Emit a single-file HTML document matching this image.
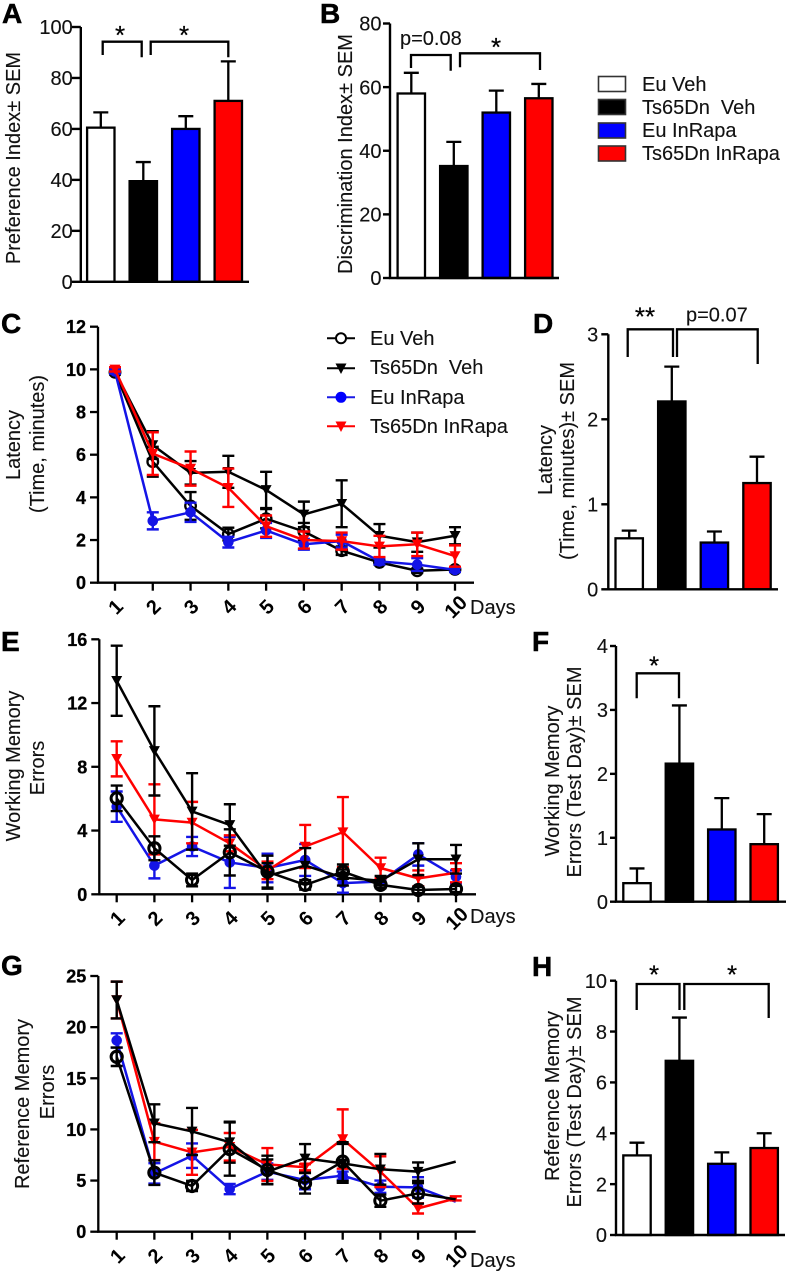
<!DOCTYPE html>
<html lang="en">
<head>
<meta charset="utf-8">
<title>Behavioural results panels A-H</title>
<style>
  html, body { margin: 0; padding: 0; background: #fff; }
  svg { display: block; font-family: "Liberation Sans", sans-serif; fill: #000; filter: blur(0.35px); }
  .letter { font-weight: bold; font-size: 28px; fill: #000; stroke: #000; stroke-width: 0.5; }
  .label { font-size: 20px; fill: #111; stroke: #111; stroke-width: 0.12; }
  .mid { text-anchor: middle; }
  .star { font-size: 26px; text-anchor: middle; fill: #000; stroke: #000; stroke-width: 0.2; }
  .bracket { fill: none; stroke: #000; stroke-width: 2.3; }
</style>
</head>
<body>
<svg id="figure" xmlns="http://www.w3.org/2000/svg" width="787" height="1273" viewBox="0 0 787 1273">
  <rect x="0" y="0" width="787" height="1273" fill="#fff"/>

  <text class="letter" x="2" y="23">A</text>
  <text class="letter" x="320" y="23">B</text>
  <text class="letter" x="1" y="333">C</text>
  <text class="letter" x="533" y="333">D</text>
  <text class="letter" x="1" y="651">E</text>
  <text class="letter" x="532" y="651">F</text>
  <text class="letter" x="1" y="975">G</text>
  <text class="letter" x="532" y="976">H</text>

  <text class="label mid" transform="translate(20 158) rotate(-90)">Preference Index± SEM</text>
  <text class="label mid" transform="translate(352 154) rotate(-90)">Discrimination Index± SEM</text>
  <text class="label mid" transform="translate(20 445) rotate(-90)">Latency</text>
  <text class="label mid" transform="translate(44 444) rotate(-90)">(Time, minutes)</text>
  <text class="label mid" transform="translate(552 460) rotate(-90)">Latency</text>
  <text class="label mid" transform="translate(574 461) rotate(-90)">(Time, minutes)± SEM</text>
  <text class="label mid" transform="translate(20 766) rotate(-90)">Working Memory</text>
  <text class="label mid" transform="translate(44 768) rotate(-90)">Errors</text>
  <text class="label mid" transform="translate(559 781) rotate(-90)">Working Memory</text>
  <text class="label mid" transform="translate(581 772) rotate(-90)">Errors (Test Day)± SEM</text>
  <text class="label mid" transform="translate(29 1104) rotate(-90)">Reference Memory</text>
  <text class="label mid" transform="translate(54 1092) rotate(-90)">Errors</text>
  <text class="label mid" transform="translate(559 1096) rotate(-90)">Reference Memory</text>
  <text class="label mid" transform="translate(581 1102) rotate(-90)">Errors (Test Day)± SEM</text>

  <text class="label" x="470" y="614">Days</text>
  <text class="label" x="470" y="923">Days</text>
  <text class="label" x="470" y="1267">Days</text>

  <g>
    <path class="bracket" d="M102.7 55V41.7H141.7V57.3"/>
    <path class="bracket" d="M150.7 55V41.7H228.3V57.3"/>
    <text class="star" x="120" y="44">*</text>
    <text class="star" x="184" y="44">*</text>
  </g>
  <g>
    <path class="bracket" d="M411 68V55H450.7V70.7"/>
    <path class="bracket" d="M460 67.3V53.3H540V70"/>
    <text class="label" x="400" y="45">p=0.08</text>
    <text class="star" x="496" y="56">*</text>
  </g>
  <g>
    <path class="bracket" d="M627.7 357V329.3H673V357"/>
    <path class="bracket" d="M677 357V329.3H757.7V364"/>
    <text class="star" x="645" y="325.5">**</text>
    <text class="label" x="686" y="321.5">p=0.07</text>
  </g>
  <g>
    <path class="bracket" d="M636.7 698.3V673.3H679V698.3"/>
    <text class="star" x="654" y="674.5">*</text>
  </g>
  <g>
    <path class="bracket" d="M636.7 1010V984H679.5V1010"/>
    <path class="bracket" d="M684.3 1010V984H768.7V1018"/>
    <text class="star" x="654" y="983.5">*</text>
    <text class="star" x="732" y="983.5">*</text>
  </g>

  <g>
    <g>
      <rect x="598.5" y="76.5" width="27" height="15" fill="#fff" stroke="#333" stroke-width="1.6"/>
      <text class="label" x="642" y="91">Eu Veh</text>
    </g>
    <g>
      <rect x="598.5" y="99.5" width="27" height="15" fill="#000" stroke="#333" stroke-width="1.6"/>
      <text class="label" x="642" y="114" xml:space="preserve">Ts65Dn  Veh</text>
    </g>
    <g>
      <rect x="598.5" y="123" width="27" height="15" fill="#0000ff" stroke="#333" stroke-width="1.6"/>
      <text class="label" x="642" y="137">Eu InRapa</text>
    </g>
    <g>
      <rect x="598.5" y="146" width="27" height="15" fill="#ff0000" stroke="#333" stroke-width="1.6"/>
      <text class="label" x="642" y="160">Ts65Dn InRapa</text>
    </g>
  </g>

  <g>
    <g>
      <path d="M327 338.3H355" stroke="#000" stroke-width="2"/>
      <circle cx="341" cy="338.3" r="5" fill="#fff" stroke="#000" stroke-width="2"/>
      <text class="label" x="370" y="345">Eu Veh</text>
    </g>
    <g>
      <path d="M327 368.3H355" stroke="#000" stroke-width="2"/>
      <path d="M335.5 363.5H346.5L341 374Z" fill="#000"/>
      <text class="label" x="370" y="374" xml:space="preserve">Ts65Dn  Veh</text>
    </g>
    <g>
      <path d="M327 397.3H355" stroke="#1a1ae6" stroke-width="2"/>
      <circle cx="341" cy="397.3" r="5.5" fill="#0000ff"/>
      <text class="label" x="370" y="404">Eu InRapa</text>
    </g>
    <g>
      <path d="M327 426.3H355" stroke="#f00" stroke-width="2"/>
      <path d="M335.5 421.5H346.5L341 432Z" fill="#f00"/>
      <text class="label" x="370" y="433">Ts65Dn InRapa</text>
    </g>
  </g>
</svg>

<script>
/* ---------- shared categories ---------- */
const barGroups = ['eu-veh', 'ts65dn-veh', 'eu-inrapa', 'ts65dn-inrapa'];
const dayLabels = ['1', '2', '3', '4', '5', '6', '7', '8', '9', '10'];

/* ---------- bar chart data ---------- */
const aTicks = [0, 20, 40, 60, 80, 100];
const aMeans = [60.5, 39.5, 60, 71];
const aErrors = [6, 7.5, 5, 15.5];

const bTicks = [0, 20, 40, 60, 80];
const bMeans = [58, 35.2, 52, 56.5];
const bErrors = [6.5, 7.6, 6.9, 4.5];

const dTicks = [0, 1, 2, 3];
const dMeans = [0.6, 2.21, 0.55, 1.25];
const dErrors = [0.09, 0.41, 0.13, 0.31];

const fTicks = [0, 1, 2, 3, 4];
const fMeans = [0.29, 2.16, 1.13, 0.9];
const fErrors = [0.23, 0.91, 0.49, 0.47];

const hTicks = [0, 2, 4, 6, 8, 10];
const hMeans = [3.13, 6.85, 2.8, 3.42];
const hErrors = [0.5, 1.7, 0.45, 0.58];

/* ---------- line chart data ---------- */
const cTicks = [0, 2, 4, 6, 8, 10, 12];
const cEuVeh = [9.86, 5.67, 3.6, 2.28, 3.0, 2.4, 1.5, 0.95, 0.56, 0.62];
const cEuVehErr = [0.1, 0.7, 0.65, 0.3, 0.45, 0.4, 0.2, 0.1, 0.1, 0.1];
const cTsVeh = [9.9, 6.45, 5.15, 5.2, 4.35, 3.2, 3.7, 2.2, 1.9, 2.2];
const cTsVehErr = [0.1, 0.65, 0.55, 0.75, 0.85, 0.6, 1.1, 0.55, 0.45, 0.4];
const cEuRapa = [9.9, 2.9, 3.3, 1.9, 2.45, 1.8, 1.95, 1.0, 0.85, 0.6];
const cEuRapaErr = [0.1, 0.4, 0.45, 0.25, 0.35, 0.25, 0.3, 0.15, 0.3, 0.1];
const cTsRapa = [10, 6.05, 5.35, 4.45, 2.65, 2.0, 1.95, 1.7, 1.8, 1.25];
const cTsRapaErr = [0.1, 1.0, 0.8, 0.9, 0.5, 0.4, 0.4, 0.5, 0.55, 0.5];

const eTicks = [0, 4, 8, 12, 16];
const eEuVeh = [6.02, 2.89, 0.9, 2.63, 1.42, 0.59, 1.42, 0.59, 0.27, 0.33];
const eEuVehErr = [0.8, 0.75, 0.4, 1.45, 1.0, 0.3, 0.45, 0.2, 0.2, 0.2];
const eTsVeh = [13.4, 9.0, 5.2, 4.35, 1.15, 1.8, 1.05, 0.85, 2.2, 2.2];
const eTsVehErr = [2.2, 2.8, 2.4, 1.3, 0.8, 1.1, 0.5, 0.3, 1.0, 0.9];
const eEuRapa = [5.5, 1.8, 3.0, 2.0, 1.65, 2.15, 0.7, 0.8, 2.5, 1.1];
const eEuRapaErr = [0.95, 0.8, 0.6, 1.6, 0.9, 1.0, 0.6, 0.15, 0.7, 0.4];
const eTsRapa = [8.5, 4.7, 4.5, 3.2, 1.5, 3.0, 3.9, 1.65, 1.0, 1.35];
const eTsRapaErr = [1.1, 2.2, 1.3, 0.5, 0.55, 1.35, 2.2, 0.65, 0.5, 0.6];

const gTicks = [0, 5, 10, 15, 20, 25];
const gEuVeh = [17.1, 5.77, 4.47, 8.08, 6.03, 4.73, 6.85, 3.03, 3.75, 3.16];
const gEuVehErr = [0.9, 1.2, 0.5, 2.6, 1.4, 1.0, 1.9, 0.6, 1.0, 0];
const gTsVeh = [22.65, 10.6, 9.8, 8.75, 5.87, 7.17, 6.68, 6.1, 5.87, 6.85];
const gTsVehErr = [1.8, 1.85, 2.3, 2.0, 1.2, 1.4, 1.9, 1.5, 0.9, 0];
const gEuRapa = [18.7, 5.7, 7.43, 4.17, 5.87, 5.05, 5.48, 4.4, 4.33, 2.93];
const gEuRapaErr = [0.7, 1.0, 1.2, 0.5, 0.8, 0.9, 0.4, 0.6, 1.0, 0];
const gTsRapa = [22.65, 8.8, 7.76, 8.3, 6.58, 6.3, 9.06, 5.87, 2.28, 3.26];
const gTsRapaErr = [1.8, 1.8, 2.2, 1.35, 1.6, 0.3, 2.9, 1.5, 0.5, 0.2];

/* ---------- drawing ---------- */
const SVGNS = 'http://www.w3.org/2000/svg';
const root = document.getElementById('figure');
const BAR_FILLS = ['#ffffff', '#000000', '#0000ff', '#ff0000'];
const INK = '#000';

function mk(parent, tag, attrs) {
  const el = document.createElementNS(SVGNS, tag);
  Object.keys(attrs).forEach(function (k) { el.setAttribute(k, attrs[k]); });
  parent.appendChild(el);
  return el;
}

function linearY(frame, max) {
  return function (v) { return frame.y0 - (v / max) * (frame.y0 - frame.yTop); };
}

function drawYAxis(g, frame, ticks, y, opts) {
  const axis = mk(g, 'path', { d: 'M' + frame.axisX + ' ' + frame.yTop + 'V' + (frame.y0 + 1.1) + 'M' + (frame.axisX - 1.1) + ' ' + frame.y0 + 'H' + frame.xEnd, stroke: INK, 'stroke-width': opts.axisWidth, fill: 'none' });
  
  
  ticks.forEach(function (t) {
    const tick = mk(g, 'line', { x1: frame.axisX - opts.tickLen, x2: frame.axisX, y1: y(t), y2: y(t), stroke: INK, 'stroke-width': opts.axisWidth });
    
    
    const label = mk(g, 'text', { x: frame.axisX - opts.labelGap, y: y(t) + opts.fontSize * 0.36, 'text-anchor': 'end', 'font-size': opts.fontSize, 'font-weight': opts.weight, fill: opts.weight === 'bold' ? '#000' : '#111', stroke: '#000', 'stroke-width': opts.weight === 'bold' ? 0.3 : 0.12 });
    label.textContent = String(t);
    
    
  });
}

function drawBarPanel(frame, ticks, means, errors) {
  const g = mk(root, 'g', {});
  
  
  const y = linearY(frame, ticks[ticks.length - 1]);
  means.forEach(function (m, i) {
    const cx = frame.firstBar + i * frame.step;
    const whisker = mk(g, 'path', { d: 'M' + cx + ' ' + y(m) + 'V' + y(m + errors[i]) + 'M' + (cx - 7.5) + ' ' + y(m + errors[i]) + 'H' + (cx + 7.5), stroke: INK, 'stroke-width': 2.3, fill: 'none' });
    
    
    const bar = mk(g, 'rect', { x: cx - 13.7, y: y(m), width: 27.4, height: Math.max(0, frame.y0 - y(m)), fill: BAR_FILLS[i], stroke: INK, 'stroke-width': 2.3 });
    
    
  });
  drawYAxis(g, frame, ticks, y, { axisWidth: 2.4, tickLen: frame.tickLen, labelGap: frame.labelGap, fontSize: 20, weight: 'normal' });
}

function drawLinePanel(frame, ticks, seriesList) {
  const g = mk(root, 'g', {});
  
  
  const y = linearY(frame, ticks[ticks.length - 1]);
  const x = function (i) { return frame.x1 + i * (frame.x10 - frame.x1) / (dayLabels.length - 1); };

  drawYAxis(g, frame, ticks, y, { axisWidth: 2.3, tickLen: 8, labelGap: 12, fontSize: 18, weight: 'bold' });

  dayLabels.forEach(function (d, i) {
    const tick = mk(g, 'line', { x1: x(i), x2: x(i), y1: frame.y0, y2: frame.y0 + 8, stroke: INK, 'stroke-width': 2.3 });
    
    
    const label = mk(g, 'text', { transform: 'translate(' + (x(i) + 0.5) + ' ' + (frame.y0 + 24) + ') rotate(-45)', 'text-anchor': 'middle', 'font-size': 20, 'font-weight': 'bold', fill: '#000', dy: '0.35em' });
    label.textContent = d;
    
    
  });

  seriesList.forEach(function (s) {
    const sg = mk(g, 'g', {});
    
    
    s.values.forEach(function (v, i) {
      const e = s.errors[i];
      if (e <= 0) { return; }
      const w = 6;
      const whisker = mk(sg, 'path', { d: 'M' + x(i) + ' ' + y(v + e) + 'V' + y(v - e) + 'M' + (x(i) - w) + ' ' + y(v + e) + 'H' + (x(i) + w) + 'M' + (x(i) - w) + ' ' + y(v - e) + 'H' + (x(i) + w), stroke: s.color, 'stroke-width': 2.4, fill: 'none' });
      
      
    });
    const points = s.values.map(function (v, i) { return x(i) + ',' + y(v); }).join(' ');
    const line = mk(sg, 'polyline', { points: points, fill: 'none', stroke: s.color, 'stroke-width': 2.5, 'stroke-linejoin': 'round' });
    
    
    s.values.forEach(function (v, i) {
      if (frame.noLastMarker && i === s.values.length - 1) { return; }
      let mark;
      if (s.marker === 'open') {
        mark = mk(sg, 'circle', { cx: x(i), cy: y(v), r: frame.openR, fill: 'none', stroke: s.color, 'stroke-width': frame.openStroke });
      } else if (s.marker === 'dot') {
        mark = mk(sg, 'circle', { cx: x(i), cy: y(v), r: 5.3, fill: s.color });
      } else {
        const px = x(i);
        const py = y(v);
        mark = mk(sg, 'polygon', { points: (px - 5.5) + ',' + (py - 4.8) + ' ' + (px + 5.5) + ',' + (py - 4.8) + ' ' + px + ',' + (py + 5.2), fill: s.color });
      }
      
      
    });
  });
}

const EU_VEH = { key: 'eu-veh', color: '#000', marker: 'open' };
const TS_VEH = { key: 'ts65dn-veh', color: '#000', marker: 'tri' };
const EU_RAPA = { key: 'eu-inrapa', color: '#1414e6', marker: 'dot' };
const TS_RAPA = { key: 'ts65dn-inrapa', color: '#f00', marker: 'tri' };
function withData(style, values, errors) {
  return Object.assign({}, style, { values: values, errors: errors });
}

drawBarPanel({ id: 'a', axisX: 80.8, y0: 281.8, yTop: 27, xEnd: 249, firstBar: 100.8, step: 42.5, tickLen: 9, labelGap: 8 }, aTicks, aMeans, aErrors);
drawBarPanel({ id: 'b', axisX: 390, y0: 278, yTop: 23.5, xEnd: 559, firstBar: 411.3, step: 42.5, tickLen: 7, labelGap: 8.5 }, bTicks, bMeans, bErrors);
drawBarPanel({ id: 'd', axisX: 608.3, y0: 589.3, yTop: 334.3, xEnd: 778, firstBar: 629.2, step: 42.6, tickLen: 7, labelGap: 10 }, dTicks, dMeans, dErrors);
drawBarPanel({ id: 'f', axisX: 616, y0: 901.7, yTop: 646, xEnd: 786, firstBar: 637, step: 42.4, tickLen: 6, labelGap: 8 }, fTicks, fMeans, fErrors);
drawBarPanel({ id: 'h', axisX: 616, y0: 1235, yTop: 980.7, xEnd: 785, firstBar: 637, step: 42.4, tickLen: 6, labelGap: 9 }, hTicks, hMeans, hErrors);

drawLinePanel({ id: 'c', axisX: 98, y0: 582.7, yTop: 326.7, xEnd: 474, x1: 115, x10: 455, openR: 5.3, openStroke: 2.3, noLastMarker: false }, cTicks, [
  withData(EU_VEH, cEuVeh, cEuVehErr),
  withData(TS_VEH, cTsVeh, cTsVehErr),
  withData(EU_RAPA, cEuRapa, cEuRapaErr),
  withData(TS_RAPA, cTsRapa, cTsRapaErr)
]);
drawLinePanel({ id: 'e', axisX: 99.3, y0: 894.3, yTop: 639.3, xEnd: 476, x1: 116.7, x10: 456, openR: 5.6, openStroke: 3, noLastMarker: false }, eTicks, [
  withData(EU_RAPA, eEuRapa, eEuRapaErr),
  withData(TS_RAPA, eTsRapa, eTsRapaErr),
  withData(TS_VEH, eTsVeh, eTsVehErr),
  withData(EU_VEH, eEuVeh, eEuVehErr)
]);
drawLinePanel({ id: 'g', axisX: 98.3, y0: 1231.7, yTop: 976, xEnd: 475.7, x1: 116.7, x10: 455.7, openR: 5.6, openStroke: 3, noLastMarker: true }, gTicks, [
  withData(EU_RAPA, gEuRapa, gEuRapaErr),
  withData(TS_RAPA, gTsRapa, gTsRapaErr),
  withData(TS_VEH, gTsVeh, gTsVehErr),
  withData(EU_VEH, gEuVeh, gEuVehErr)
]);
</script>
</body>
</html>
